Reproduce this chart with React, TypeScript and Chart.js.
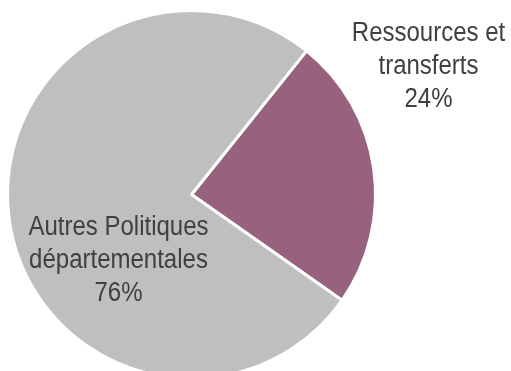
import React, { useEffect, useRef } from "react";
import { Chart, registerables } from "chart.js";

Chart.register(...registerables);

const categories = ["Ressources et transferts", "Autres Politiques départementales"];
const values = [24, 76];
const labelLines = [
  ["Ressources et", "transferts", "24%"],
  ["Autres Politiques", "départementales", "76%"],
];
const colors = ["#98617D", "#BFBFBF"];

const labelPlugin = {
  id: "pieLabels",
  afterDraw(chart: any) {
    const ctx = chart.ctx as CanvasRenderingContext2D;
    const meta = chart.getDatasetMeta(0);
    const arc0 = meta.data[0];
    const cx = arc0.x;
    const cy = arc0.y;
    const anchors = [
      { x: cx + 237, y: cy - 154 },
      { x: cx - 73, y: cy + 40 },
    ];
    ctx.save();
    ctx.font = "24px 'Liberation Sans', Arial, sans-serif";
    ctx.fillStyle = "#404040";
    ctx.textAlign = "center";
    ctx.textBaseline = "alphabetic";
    labelLines.forEach((lines, i) => {
      lines.forEach((line, j) => {
        ctx.save();
        ctx.translate(anchors[i].x, anchors[i].y + j * 33);
        ctx.scale(1, 1.15);
        ctx.fillText(line, 0, 0);
        ctx.restore();
      });
    });
    ctx.restore();
  },
};

export default function App() {
  const ref = useRef<HTMLCanvasElement>(null);
  useEffect(() => {
    if (!ref.current) return;
    const chart = new Chart(ref.current, {
      type: "pie",
      data: {
        labels: categories,
        datasets: [
          {
            data: values,
            backgroundColor: colors,
            borderColor: "#FFFFFF",
            borderWidth: 3,
          },
        ],
      },
      options: {
        responsive: false,
        animation: false,
        rotation: 38.7,
        layout: { padding: { left: 6, top: 9, right: 134, bottom: 20 } },
        plugins: {
          legend: { display: false },
          tooltip: { enabled: false },
        },
      },
      plugins: [labelPlugin],
    });
    return () => chart.destroy();
  }, []);
  return (
    <div
      style={{
        position: "absolute",
        left: 0,
        top: 0,
        width: 511,
        height: 371,
        overflow: "hidden",
        background: "#FFFFFF",
      }}
    >
      <canvas ref={ref} width={511} height={400} style={{ display: "block" }} />
    </div>
  );
}
